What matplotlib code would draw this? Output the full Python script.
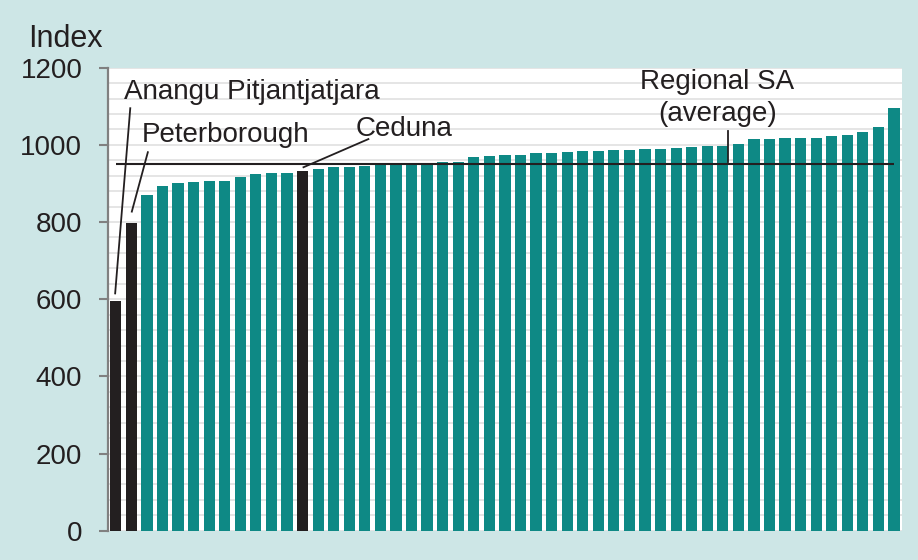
import matplotlib.pyplot as plt
import numpy as np

plt.rcParams['font.family'] = ['Liberation Sans', 'DejaVu Sans']

# index value of each region, sorted low to high
index_values = [595, 797, 869, 893, 900, 904, 906, 906, 916, 924, 926, 926, 932,
                937, 942, 943, 946, 948, 949, 950, 951, 955, 956, 969, 972, 975,
                975, 979, 980, 981, 983, 983, 986, 987, 989, 989, 991, 994, 997,
                997, 1003, 1014, 1016, 1017, 1018, 1019, 1023, 1026, 1034, 1046, 1096]
highlight_names = ['Anangu Pitjantjatjara', 'Peterborough', 'Ceduna']
highlight_bars = [0, 1, 12]
regional_average = 950
average_label = ['Regional SA', '(average)']
y_ticks = [0, 200, 400, 600, 800, 1000, 1200]

BG = '#cde6e6'
TEAL = '#0e8985'
DARK = '#231f20'
GREY = '#808080'

fig = plt.figure(figsize=(9.18, 5.6), dpi=100, facecolor=BG)
ax = fig.add_axes([108 / 918, 1 - 530.7 / 560, 793.8 / 918, 463 / 560])
ax.set_facecolor('white')

x = np.arange(len(index_values))
colors = [DARK if i in highlight_bars else TEAL for i in x]
ax.bar(x, index_values, width=0.72, color=colors, zorder=2)

ax.set_xlim(-0.5, 50.5)
ax.set_ylim(0, 1200)
ax.set_yticks(y_ticks)
ax.set_yticks(np.arange(0, 1201, 40), minor=True)
ax.grid(which='both', axis='y', color='#e0e0e0', lw=1.2, zorder=0)
ax.set_axisbelow(True)
ax.set_xticks([])
ax.tick_params(axis='y', which='major', length=6.5, width=1.5, color=GREY,
               pad=12, labelsize=20, labelcolor=DARK)
ax.tick_params(axis='y', which='minor', length=0)
for side in ['top', 'right', 'bottom']:
    ax.spines[side].set_visible(False)
ax.spines['left'].set_color(GREY)
ax.spines['left'].set_linewidth(1.6)

# regional average line
ax.hlines(regional_average, 0, 50, color=DARK, lw=1.5, zorder=3)

# labels with leader lines
ax.text(0.55, 1118, highlight_names[0], fontsize=20, color=DARK, va='baseline')
ax.plot([-0.04, 0.93], [615, 1095], color=DARK, lw=1.3, zorder=3)

ax.text(1.68, 1008, highlight_names[1], fontsize=20, color=DARK, va='baseline')
ax.plot([1.03, 2.06], [827, 981], color=DARK, lw=1.3, zorder=3)

ax.text(15.44, 1023, highlight_names[2], fontsize=20, color=DARK, va='baseline')
ax.plot([12.06, 16.23], [942, 1015], color=DARK, lw=1.3, zorder=3)

ax.text(38.66, 1144, average_label[0], fontsize=20, color=DARK, va='baseline', ha='center')
ax.text(38.66, 1061, average_label[1], fontsize=20, color=DARK, va='baseline', ha='center')
ax.plot([39.33, 39.33], [955, 1036], color=DARK, lw=1.3, zorder=3)

fig.text(28.3 / 918, 1 - 46.7 / 560, 'Index', fontsize=22, color=DARK, va='baseline')

fig.savefig('out.png', dpi=100, facecolor=BG)
